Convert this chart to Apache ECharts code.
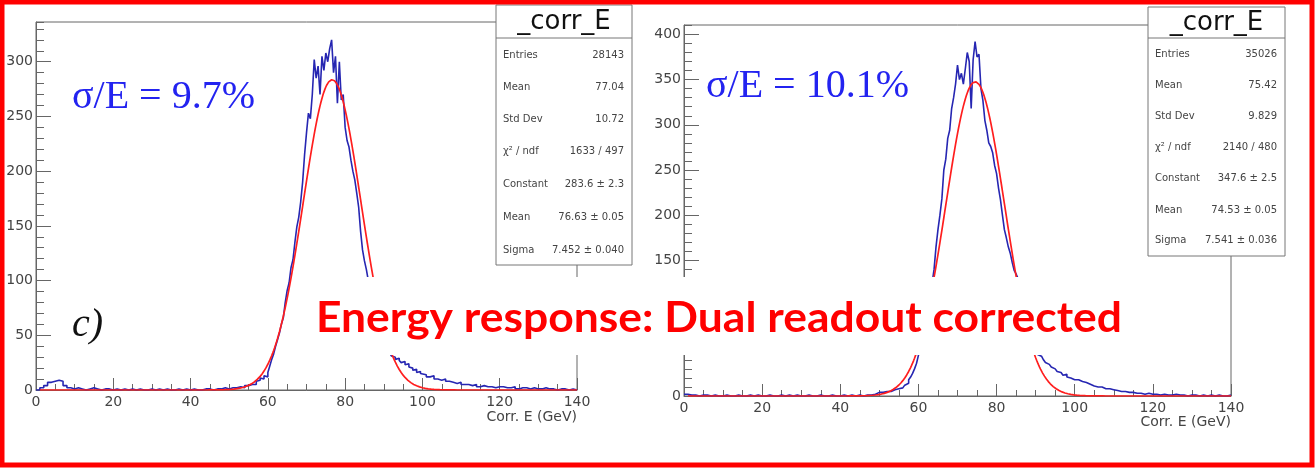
<!DOCTYPE html>
<html>
<head>
<meta charset="utf-8">
<script src="https://cdn.jsdelivr.net/npm/echarts@6/dist/echarts.min.js"></script>
<style>
  html, body { margin: 0; padding: 0; background: #fff; }
  #chart { width: 1315px; height: 469px; }
</style>
</head>
<body>
<div id="chart"></div>
<script>
// ---- Histogram contents: [lower bin edge (GeV), entries] ----
const leftHist = [
  [0,0],[1,2],[2,4],[3,7],[4,8],[5,9],[6,8],[7,4],[8,2],[9,1],[10,2],[11,1],[12,0],[13,1],[14,2],[15,1],[16,0],[17,1],[18,1],[19,0],
  [20,1],[21,0],[22,1],[23,0],[24,1],[25,0],[26,1],[27,0],[28,0],[29,1],[30,0],[31,1],[32,0],[33,1],[34,0],[35,0],[36,1],[37,0],[38,1],[39,0],
  [40,1],[41,0],[42,0],[43,1],[44,1],[45,0],[46,1],[47,1],[48,2],[49,1],[50,2],[51,2],[52,3],[53,2],[54,4],
  [55,4],[55.5,5],[56,6],[56.5,5],[57,8],[57.5,9],[58,11],[58.5,10],[59,13],[59.5,12],[60,16],[60.5,22],[61,28],[61.5,33],[62,40],[62.5,46],
  [63,52],[63.5,60],[64,66],[64.5,80],[65,91],[65.5,98],[66,112],[66.5,119],[67,135],[67.5,149],[68,158],[68.5,172],[69,190],[69.5,215],
  [70,235],[70.5,253],[71,248],[71.5,270],[72,302],[72.5,285],[73,296],[73.5,270],[74,305],[74.5,292],[75,308],[75.5,300],[76,312],[76.5,320],
  [77,290],[77.5,305],[78,262],[78.5,300],[79,265],[79.5,270],[80,240],[80.5,228],[81,222],[81.5,210],[82,200],[82.5,192],[83,180],[83.5,167],
  [84,145],[84.5,128],[85,118],[85.5,110],[86,100],[86.5,92],[87,84],[87.5,76],[88,68],[88.5,61],[89,55],[89.5,49],[90,44],[90.5,40],
  [91,37],[91.5,34],[92,31],[92.5,30],[93,28],[93.5,29],[94,27],[94.5,25],[95,26],[95.5,23],[96,24],[96.5,21],[97,20],[97.5,18],[98,19],
  [98.5,16],[99,17],[99.5,15],
  [100,14],[101,12],[102,13],[103,10],[104,9],[105,10],[106,8],[107,7],[108,6],[109,7],[110,5],[111,5],[112,4],[113,5],[114,3],[115,4],
  [116,3],[117,3],[118,2],[119,3],[120,3],[121,2],[122,2],[123,3],[124,1],[125,2],[126,2],[127,1],[128,2],[129,1],[130,1],[131,2],[132,1],
  [133,1],[134,0],[135,1],[136,1],[137,0],[138,1],[139,0]
];

const rightHist = [
  [0,2],[1,1],[2,1],[3,0],[4,1],[5,1],[6,0],[7,1],[8,0],[9,0],[10,1],[11,0],[12,0],[13,1],[14,0],[15,0],[16,1],[17,0],[18,1],[19,0],
  [20,0],[21,1],[22,0],[23,0],[24,1],[25,0],[26,1],[27,0],[28,1],[29,0],[30,0],[31,1],[32,0],[33,0],[34,1],[35,0],[36,0],[37,1],[38,0],[39,0],
  [40,1],[41,0],[42,1],[43,0],[44,1],[45,0],[46,1],[47,1],
  [48,1],[48.5,2],[49,3],[49.5,4],[50,3],[50.5,4],[51,3],[51.5,5],[52,4],[52.5,5],[53,6],[53.5,7],[54,6],[54.5,8],[55,7],[55.5,9],
  [56,10],[56.5,12],[57,14],[57.5,18],[58,21],[58.5,25],[59,30],[59.5,36],[60,45],[60.5,52],[61,60],[61.5,70],[62,80],[62.5,92],
  [63,105],[63.5,125],[64,140],[64.5,165],[65,184],[65.5,200],[66,218],[66.5,250],[67,262],[67.5,285],[68,294],[68.5,318],[69,330],[69.5,345],
  [70,366],[70.5,350],[71,357],[71.5,345],[72,362],[72.5,380],[73,370],[73.5,318],[74,372],[74.5,392],[75,375],[75.5,378],[76,340],[76.5,327],
  [77,305],[77.5,294],[78,280],[78.5,276],[79,269],[79.5,255],[80,246],[80.5,230],[81,217],[81.5,200],[82,184],[82.5,175],[83,165],[83.5,158],
  [84,148],[84.5,139],[85,135],[85.5,130],[86,120],[86.5,110],[87,100],[87.5,90],[88,82],[88.5,74],[89,66],[89.5,60],[90,53],[90.5,46],
  [91,44],[91.5,42],[92,40],[92.5,37],[93,35],[93.5,33],[94,32],[94.5,30],[95,28],[95.5,27],[96,26],[96.5,25],[97,23],[97.5,24],[98,21],
  [98.5,20],[99,19],[99.5,18],
  [100,18],[101,16],[102,15],[103,13],[104,11],[105,10],[106,10],[107,8],[108,8],[109,7],[110,6],[111,5],[112,5],[113,4],[114,4],[115,3],
  [116,3],[117,2],[118,3],[119,2],[120,2],[121,1],[122,2],[123,1],[124,1],[125,2],[126,1],[127,1],[128,0],[129,1],[130,1],[131,0],[132,1],
  [133,0],[134,1],[135,0],[136,1],[137,0],[138,0],[139,1]
];

const histMax = 140;            // upper edge of the last bin (GeV)

// ---- Gaussian fit parameters: constant, mean, sigma ----
const leftFit = [283.6, 76.63, 7.452];
const rightFit = [347.6, 74.53, 7.541];
const fitRange = [1, 140];

// ---- Statistics boxes ----
const statTitle = '_corr_E';
const statLabels = ['Entries', 'Mean', 'Std Dev', 'χ² / ndf', 'Constant', 'Mean', 'Sigma'];
const leftStatValues = ['28143', '77.04', '10.72', '1633 / 497', '283.6 ± 2.3', '76.63 ± 0.05', '7.452 ± 0.040'];
const rightStatValues = ['35026', '75.42', '9.829', '2140 / 480', '347.6 ± 2.5', '74.53 ± 0.05', '7.541 ± 0.036'];

// ---- Annotations ----
const resolutionLabels = ['σ/E = 9.7%', 'σ/E = 10.1%'];
const panelTag = 'c)';
const xAxisTitle = 'Corr. E (GeV)';
const headline = 'Energy response: Dual readout corrected';

// ---- Axis settings ----
const xRange = [0, 140];
const xMajor = 20;
const yMajor = 50;
const yMinor = 10;
const yTop = [336.3, 410.4];

// --------------------------------------------------------------------

const AXIS_COLOR = '#666';
const TICK_FONT = 'DejaVu Sans';

function histSeriesData(hist) {
  const pts = hist.map(b => [b[0], b[1]]);
  pts.push([histMax, hist[hist.length - 1][1]]);
  return pts;
}

// fitted Gaussian, evaluated from the quoted fit parameters
function gaussCurve(p) {
  const [c, m, s] = p;
  const pts = [];
  const steps = (fitRange[1] - fitRange[0]) * 4;
  for (let i = 0; i <= steps; i++) {
    const x = fitRange[0] + i * 0.25;
    const z = (x - m) / s;
    pts.push([x, c * Math.exp(-0.5 * z * z)]);
  }
  return pts;
}

const panels = [
  { grid: { left: 36, top: 22, width: 541, height: 368 }, yMax: yTop[0], hist: leftHist, fit: leftFit },
  { grid: { left: 684, top: 25, width: 547, height: 371 }, yMax: yTop[1], hist: rightHist, fit: rightFit }
];

const grids = [], xAxes = [], yAxes = [], series = [];
panels.forEach((p, i) => {
  grids.push(Object.assign({
    show: true, borderColor: AXIS_COLOR, borderWidth: 1, backgroundColor: 'transparent',
    containLabel: false, outerBoundsMode: 'none'
  }, p.grid));
  xAxes.push({
    type: 'value', gridIndex: i, min: xRange[0], max: xRange[1], interval: xMajor,
    axisLine: { show: true, onZero: false, lineStyle: { color: AXIS_COLOR, width: 1 } },
    axisTick: { show: true, inside: true, length: 12, lineStyle: { color: AXIS_COLOR } },
    minorTick: { show: true, splitNumber: 4, length: 6, lineStyle: { color: AXIS_COLOR } },
    splitLine: { show: false },
    axisLabel: { fontFamily: TICK_FONT, fontSize: 14, color: '#444', margin: 5 }
  });
  // major ticks with labels
  yAxes.push({
    type: 'value', gridIndex: i, position: 'left', min: 0, max: p.yMax, interval: yMajor,
    axisLine: { show: true, onZero: false, lineStyle: { color: AXIS_COLOR, width: 1 } },
    axisTick: { show: true, inside: true, length: 15, lineStyle: { color: AXIS_COLOR } },
    splitLine: { show: false },
    axisLabel: { fontFamily: TICK_FONT, fontSize: 14, color: '#444', margin: 3, showMaxLabel: false }
  });
  // secondary ticks
  yAxes.push({
    type: 'value', gridIndex: i, position: 'left', min: 0, max: p.yMax, interval: yMinor,
    axisLine: { show: false },
    axisTick: { show: true, inside: true, length: 8, lineStyle: { color: AXIS_COLOR } },
    splitLine: { show: false },
    axisLabel: { show: false }
  });
  series.push({
    type: 'line', xAxisIndex: i, yAxisIndex: i * 2, step: 'end', symbol: 'none',
    data: histSeriesData(p.hist),
    lineStyle: { color: '#2626b2', width: 1.6 }, z: 3, silent: true
  });
  series.push({
    type: 'line', xAxisIndex: i, yAxisIndex: i * 2, symbol: 'none', smooth: false,
    data: gaussCurve(p.fit),
    lineStyle: { color: '#ff1e1e', width: 1.7 }, z: 4, silent: true
  });
});

function statBox(x, y, w, h, sepY, rowYs, values) {
  const els = [
    { type: 'rect', shape: { x: x, y: y, width: w, height: h },
      style: { fill: '#fff', stroke: '#777', lineWidth: 1 } },
    { type: 'line', shape: { x1: x, y1: sepY, x2: x + w, y2: sepY },
      style: { stroke: '#777', lineWidth: 1 } },
    { type: 'text', x: x + w / 2, y: (y + sepY) / 2 + 1,
      style: { text: statTitle, font: '26px "DejaVu Sans"', fill: '#111', align: 'center', verticalAlign: 'middle' } }
  ];
  statLabels.forEach((lab, k) => {
    els.push({ type: 'text', x: x + 7, y: rowYs[k],
      style: { text: lab, font: '10px "DejaVu Sans"', fill: '#444', align: 'left', verticalAlign: 'middle' } });
    els.push({ type: 'text', x: x + w - 8, y: rowYs[k],
      style: { text: values[k], font: '10px "DejaVu Sans"', fill: '#444', align: 'right', verticalAlign: 'middle' } });
  });
  return { type: 'group', z: 50, children: els };
}

const leftRows = [55, 87.5, 119, 151.5, 184, 217, 250];
const rightRows = [54, 85.5, 116.5, 147, 178, 210, 240.5];

// fit the headline to its slot
const headlineFont = 'bold 42px Lato';
const mctx = document.createElement('canvas').getContext('2d');
mctx.font = headlineFont;
const headlineScale = 806 / mctx.measureText(headline).width;

const graphics = [
  statBox(496, 5, 136, 260, 38, leftRows, leftStatValues),
  statBox(1148, 7, 137, 249, 38, rightRows, rightStatValues),
  { type: 'text', z: 50, x: 72, y: 97.5,
    style: { text: resolutionLabels[0], font: '40px "Liberation Serif"', fill: '#2323f0', align: 'left', verticalAlign: 'middle' } },
  { type: 'text', z: 50, x: 706, y: 86,
    style: { text: resolutionLabels[1], font: '40px "Liberation Serif"', fill: '#2323f0', align: 'left', verticalAlign: 'middle' } },
  { type: 'text', z: 50, x: 72, y: 325,
    style: { text: panelTag, font: 'italic 40px "Liberation Serif"', fill: '#111', align: 'left', verticalAlign: 'middle' } },
  { type: 'text', z: 50, x: 577, y: 417,
    style: { text: xAxisTitle, font: '14px "DejaVu Sans"', fill: '#444', align: 'right', verticalAlign: 'middle' } },
  { type: 'text', z: 50, x: 1231, y: 422,
    style: { text: xAxisTitle, font: '14px "DejaVu Sans"', fill: '#444', align: 'right', verticalAlign: 'middle' } },
  { type: 'rect', z: 60, shape: { x: 308, y: 277, width: 822, height: 78 }, style: { fill: '#fff' } },
  { type: 'text', z: 61, x: 316, y: 318, scaleX: headlineScale, originX: 0,
    style: { text: headline, font: headlineFont, fill: '#ff0000', align: 'left', verticalAlign: 'middle' } },
  { type: 'rect', z: 70, shape: { x: 2, y: 2, width: 1310, height: 463 },
    style: { fill: 'none', stroke: '#ff0000', lineWidth: 5 } }
];

const chart = echarts.init(document.getElementById('chart'), null, { renderer: 'canvas' });
chart.setOption({
  animation: false,
  backgroundColor: '#fff',
  grid: grids,
  xAxis: xAxes,
  yAxis: yAxes,
  series: series,
  graphic: { elements: graphics }
});
</script>
</body>
</html>
